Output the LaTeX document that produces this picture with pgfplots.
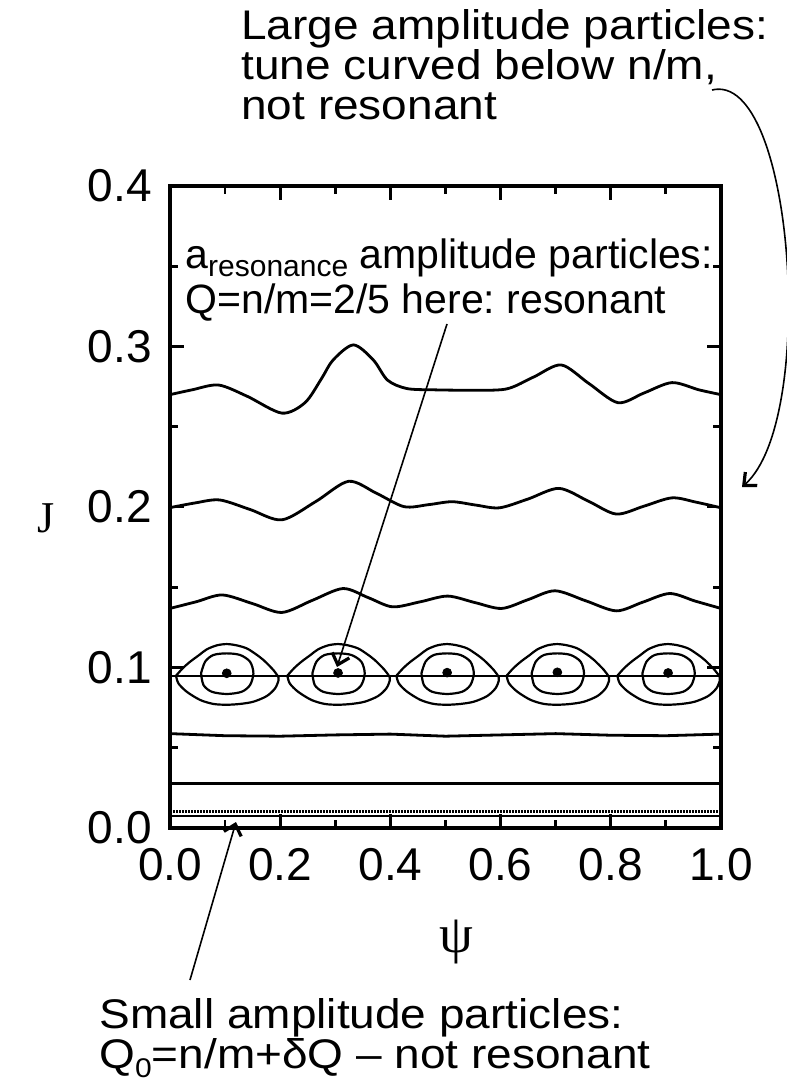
\documentclass[border=0pt]{standalone}
\usepackage{pgfplots}
\pgfplotsset{compat=1.18}
\usepackage{pgfplotstable}
\usepackage{fontspec}
\setmainfont{Liberation Sans}
\newfontfamily\seriffont{Liberation Serif}
\usetikzlibrary{arrows.meta}
\frenchspacing

% invariant curves (psi, J)
\pgfplotstableread{
x y
0.000 0.2700
0.040 0.2730
0.088 0.2760
0.140 0.2690
0.203 0.2585
0.245 0.2650
0.275 0.2800
0.296 0.2916
0.333 0.3010
0.369 0.2916
0.395 0.2790
0.430 0.2738
0.480 0.2730
0.540 0.2728
0.610 0.2735
0.660 0.2810
0.710 0.2885
0.760 0.2770
0.813 0.2650
0.860 0.2710
0.911 0.2775
0.960 0.2730
1.000 0.2700
}\topcurve

\pgfplotstableread{
x y
0.000 0.1996
0.045 0.2025
0.090 0.2044
0.145 0.1985
0.203 0.1920
0.265 0.2035
0.324 0.2160
0.375 0.2085
0.425 0.2002
0.470 0.2015
0.512 0.2033
0.555 0.2012
0.598 0.1995
0.650 0.2050
0.706 0.2116
0.760 0.2035
0.810 0.1956
0.860 0.2005
0.911 0.2057
0.955 0.2030
1.000 0.1995
}\midcurve

\pgfplotstableread{
x y
0.000 0.1368
0.048 0.1410
0.095 0.1452
0.150 0.1398
0.203 0.1343
0.258 0.1418
0.314 0.1492
0.360 0.1435
0.404 0.1378
0.455 0.1410
0.504 0.1445
0.553 0.1405
0.602 0.1368
0.650 0.1423
0.699 0.1478
0.755 0.1415
0.810 0.1353
0.858 0.1407
0.907 0.1461
0.953 0.1414
1.000 0.1368
}\lowcurve

% island separatrix, psi measured from the island centre
\pgfplotstableread{
x y
-0.0920 0.0949
-0.0800 0.0995
-0.0665 0.1036
-0.0500 0.1078
-0.0363 0.1113
-0.0180 0.1138
0.0000 0.1146
0.0180 0.1138
0.0363 0.1119
0.0520 0.1085
0.0665 0.1047
0.0847 0.0984
0.0938 0.0939
0.0938 0.0918
0.0877 0.0870
0.0726 0.0822
0.0484 0.0787
0.0242 0.0773
0.0000 0.0768
-0.0242 0.0773
-0.0484 0.0798
-0.0726 0.0849
-0.0877 0.0901
-0.0920 0.0949
}\sepx

% inner island orbit
\pgfplotstableread{
x y
-0.0466 0.0964
-0.0393 0.1036
-0.0242 0.1078
0.0000 0.1088
0.0242 0.1078
0.0423 0.1036
0.0484 0.0964
0.0423 0.0891
0.0272 0.0849
0.0000 0.0835
-0.0272 0.0849
-0.0423 0.0891
-0.0466 0.0964
}\innerx

\newcommand{\sq}[1]{\scalebox{1}[0.9]{#1}}

\begin{document}
\begin{tikzpicture}
\begin{axis}[
  at={(0,0)}, anchor=south west,
  scale only axis, width=275.5pt, height=321pt,
  xmin=0, xmax=1, ymin=0, ymax=0.4,
  xtick={0,0.2,0.4,0.6,0.8,1},
  ytick={0,0.1,0.2,0.3,0.4},
  minor xtick={0.1,0.3,0.5,0.7,0.9},
  minor ytick={0.05,0.15,0.25,0.35},
  tick align=inside,
  major tick length=7pt, minor tick length=4pt,
  axis line style={line width=1.6pt},
  every tick/.style={black, line width=1.4pt},
  xticklabel style={anchor=north, inner sep=0pt, yshift=-10pt},
  yticklabel style={anchor=east, inner sep=0pt, xshift=-9pt},
  ticklabel style={font=\fontsize{23}{23}\selectfont},
  /pgf/number format/.cd, fixed, fixed zerofill, precision=1, assume math mode=true,
]
\addplot[black, line width=1.4pt, smooth] table {\topcurve};
\addplot[black, line width=1.4pt, smooth] table {\midcurve};
\addplot[black, line width=1.4pt, smooth] table {\lowcurve};

\addplot[black, line width=1pt] coordinates {(0,0.0948) (1,0.0948)};

\addplot[black, line width=1.1pt, smooth] table[x expr=\thisrow{x}+0.103] {\sepx};
\addplot[black, line width=1.1pt, smooth] table[x expr=\thisrow{x}+0.305] {\sepx};
\addplot[black, line width=1.1pt, smooth] table[x expr=\thisrow{x}+0.503] {\sepx};
\addplot[black, line width=1.1pt, smooth] table[x expr=\thisrow{x}+0.703] {\sepx};
\addplot[black, line width=1.1pt, smooth] table[x expr=\thisrow{x}+0.904] {\sepx};

\addplot[black, line width=1.1pt, smooth] table[x expr=\thisrow{x}+0.103] {\innerx};
\addplot[black, line width=1.1pt, smooth] table[x expr=\thisrow{x}+0.305] {\innerx};
\addplot[black, line width=1.1pt, smooth] table[x expr=\thisrow{x}+0.503] {\innerx};
\addplot[black, line width=1.1pt, smooth] table[x expr=\thisrow{x}+0.703] {\innerx};
\addplot[black, line width=1.1pt, smooth] table[x expr=\thisrow{x}+0.904] {\innerx};

\addplot[only marks, mark=*, mark size=2.2pt, black] coordinates {
  (0.103,0.0964) (0.305,0.0966) (0.503,0.0968) (0.703,0.0970) (0.904,0.0966)};

\addplot[black, line width=1.4pt] coordinates {
  (0,0.0588) (0.1,0.0575) (0.2,0.0572) (0.3,0.0580) (0.4,0.0585) (0.5,0.0572)
  (0.6,0.0580) (0.7,0.0588) (0.8,0.0578) (0.9,0.0575) (1,0.0585)};
\addplot[black, line width=1.4pt] coordinates {(0,0.0278) (1,0.0278)};
\addplot[black, line width=1.2pt, dash pattern=on 0.8pt off 0.7pt] coordinates {(0,0.0102) (1,0.0102)};
\addplot[black, line width=0.9pt] coordinates {(0,0.0075) (1,0.0075)};
\end{axis}

% axis labels
\node[font=\seriffont\fontsize{22}{22}\selectfont] at (-62pt,155pt) {J};
\node[font=\seriffont\fontsize{27}{27}\selectfont] at (143pt,-57pt) {ψ};

% annotations
\begin{scope}[every node/.style={anchor=base west, inner sep=0pt, font=\fontsize{23}{20}\selectfont}]
\node at (35.5pt,394pt) {\sq{Large amplitude particles:}};
\node at (35.5pt,374pt) {\sq{tune curved below n/m,}};
\node at (35.5pt,354pt) {\sq{not resonant}};
\node at (-35.5pt,-100pt) {\sq{Small amplitude particles:}};
\node at (-35.5pt,-120pt) {\sq{Q\raisebox{-5pt}{\fontsize{15}{15}\selectfont 0}=n/m+δQ – not resonant}};
\end{scope}
\begin{scope}[every node/.style={anchor=base west, inner sep=0pt, font=\fontsize{20.5}{20}\selectfont}]
\node at (7.5pt,279.5pt) {a\raisebox{-4pt}{\fontsize{15}{15}\selectfont resonance} amplitude particles:};
\node at (7.5pt,257pt) {Q=n/m=2/5 here: resonant};
\end{scope}

% arrows
\draw[line width=0.8pt, -{Straight Barb[length=5pt,width=9pt,line width=1.6pt]}]
  (138.5pt,252pt) -- (83.5pt,80.5pt);
\draw[line width=0.8pt, -{Straight Barb[length=5pt,width=9pt,line width=1.6pt]}]
  (10pt,-76pt) -- (33pt,3pt);
\draw[line width=0.8pt, -{Straight Barb[length=5pt,width=9pt,line width=1.6pt]}]
  (271pt,369pt) .. controls (312pt,379pt) and (324pt,204pt) .. (286pt,170.5pt);

\pgfresetboundingbox
\path[use as bounding box] (-85pt,-130.5pt) rectangle (308.5pt,414pt);
\end{tikzpicture}
\end{document}
